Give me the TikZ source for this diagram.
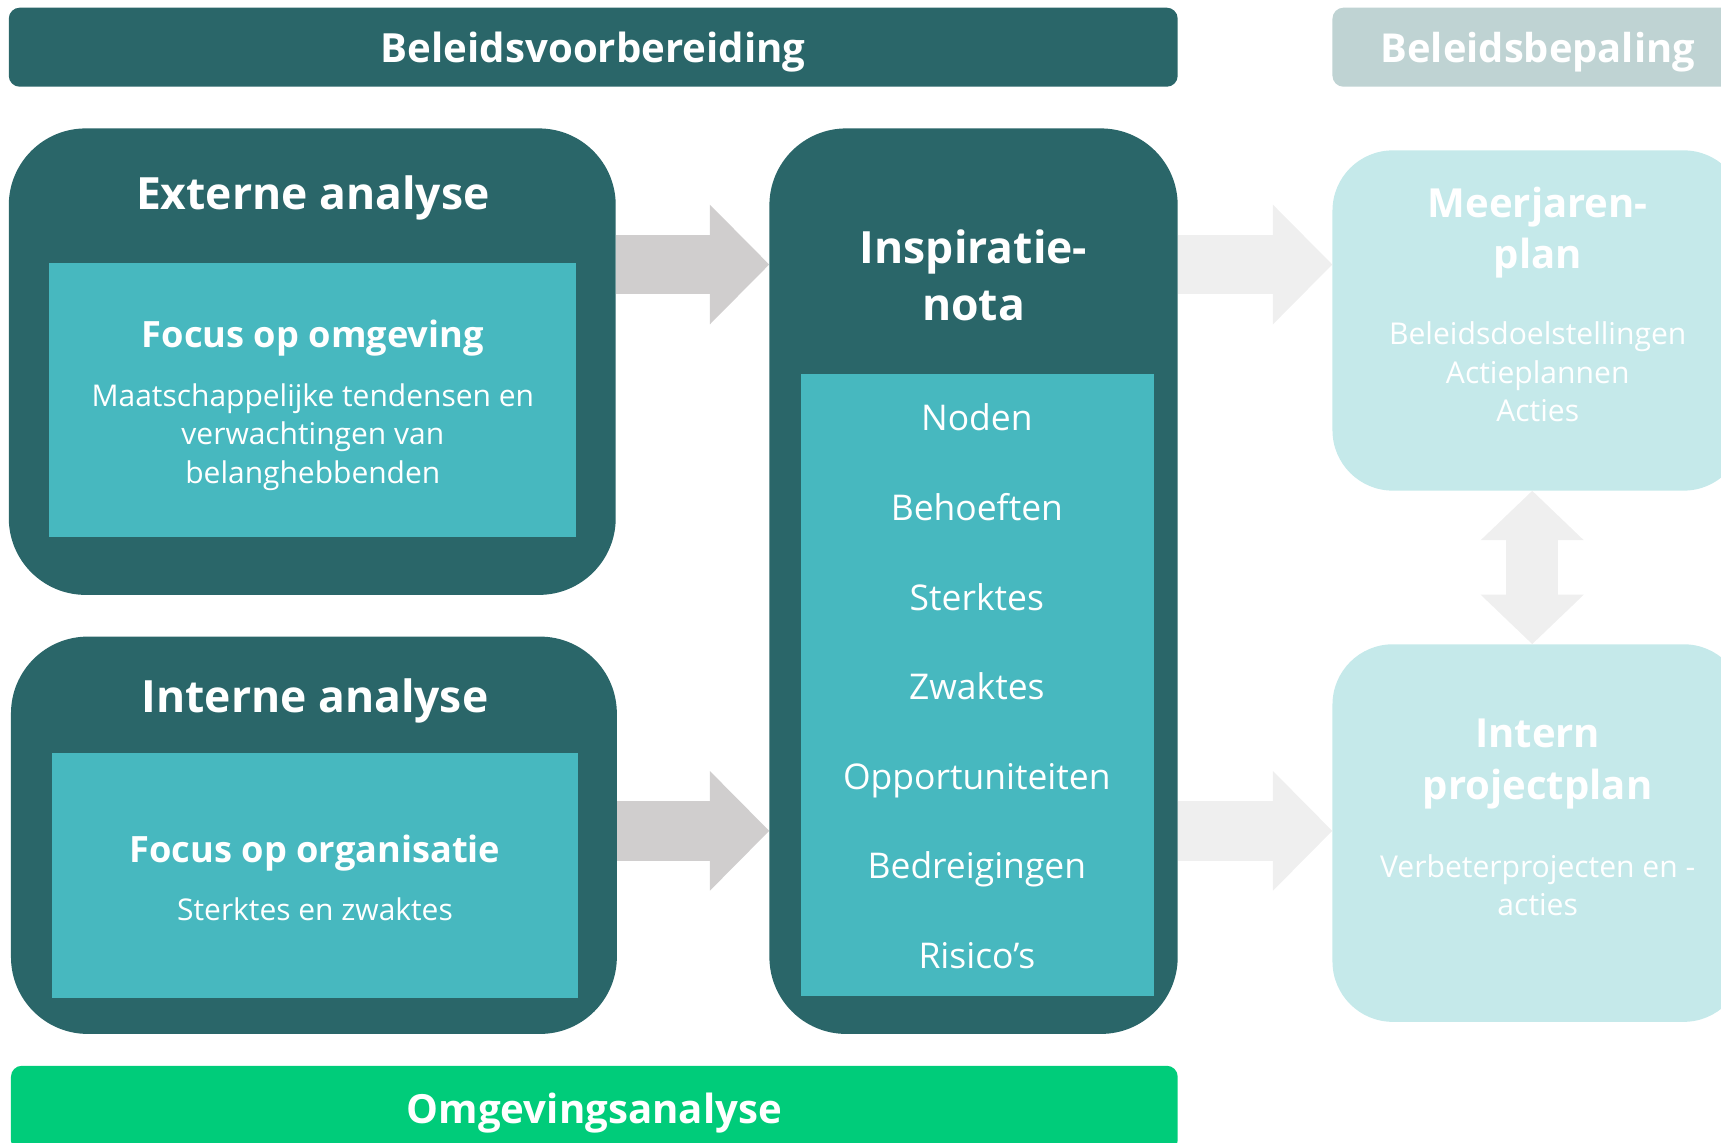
\documentclass[tikz,border=0pt]{standalone}
\usepackage{fontspec}
\setmainfont{Open Sans}
\usetikzlibrary{arrows.meta,positioning}
\definecolor{donker}{HTML}{2A6669}
\definecolor{midden}{HTML}{47B8BF}
\definecolor{licht}{HTML}{C5E9EA}
\definecolor{grijs}{HTML}{BFD3D3}
\definecolor{groen}{HTML}{00CC7A}
\definecolor{pijlgrijs}{HTML}{D0CECE}
\definecolor{pijllicht}{HTML}{EFEFEF}
\tikzset{balk/.style={fill=donker, rounded corners=10pt, inner sep=0pt,
           minimum height=72pt, text height=28.5pt, text depth=0pt,
           text=white, font=\fontsize{36.6}{40}\selectfont\bfseries},
         blok/.style={fill=donker, rounded corners=70pt, inner sep=0pt},
         vak/.style={fill=midden, inner sep=0pt},
         plan/.style={fill=licht, rounded corners=55pt, inner sep=0pt},
         kop/.style={text=white, align=center, inner sep=0pt, font=\fontsize{40.5}{52}\selectfont\bfseries},
         sub/.style={text=white, inner sep=0pt, font=\fontsize{33}{35}\selectfont\bfseries},
         tekst/.style={text=white, align=center, inner sep=0pt, font=\fontsize{27.3}{35}\selectfont},
         item/.style={text=white, inner sep=0pt, anchor=base, font=\fontsize{32.3}{35}\selectfont},
         pijl/.style={draw=pijlgrijs, line width=54pt,
           -{Triangle[length=54pt,width=109pt,line width=0pt]}},
         dubbel/.style={draw=pijllicht, line width=47pt,
           {Triangle[length=45pt,width=94pt,line width=0pt]}-{Triangle[length=45pt,width=94pt,line width=0pt]}}}

\begin{document}
\begin{tikzpicture}[x=1pt,y=-1pt]
  \path[use as bounding box,clip] (0,0) rectangle (1568,1041);

  % balken
  \node[balk, minimum width=1065pt] (vb) at (540.5,43) {Beleidsvoorbereiding};
  \node[balk, fill=grijs, minimum width=374pt, font=\fontsize{36.3}{40}\selectfont\bfseries] (bb) at (1401,43) {Beleidsbepaling};
  \node[balk, fill=groen, minimum width=1063pt, minimum height=78pt, text height=26.5pt] (oa) at (541.5,1010) {Omgevingsanalyse};

  % externe analyse
  \node[blok, minimum width=553pt, minimum height=425pt] (ext) at (284.5,329.5) {};
  \node[vak, minimum width=480pt, minimum height=249pt] (extvak) at (285,364.5) {};
  \node[kop] (extkop) at (285,180) {Externe analyse};
  \node[sub] (extsub) at (285,308) {Focus op omgeving};
  \node[tekst] (exttekst) at (285,398) {Maatschappelijke tendensen en\\verwachtingen van\\belanghebbenden};

  % interne analyse
  \node[blok, minimum width=552pt, minimum height=362pt] (int) at (286,761) {};
  \node[vak, minimum width=480pt, minimum height=223pt] (intvak) at (287,797.5) {};
  \node[kop] (intkop) at (287,639) {Interne analyse};
  \node[sub] (intsub) at (287,777) {Focus op organisatie};
  \node[tekst] (inttekst) at (287,828) {Sterktes en zwaktes};

  % inspiratienota
  \node[blok, minimum width=372pt, minimum height=825pt] (insp) at (887,529.5) {};
  \node[vak, minimum width=321pt, minimum height=566pt] (inspvak) at (890.5,624) {};
  \node[kop] (inspkop) at (887,251) {Inspiratie-\\nota};
  \node[item] (A) at (890,392.5) {Noden};
  \node[item] (B) at (890,474.5) {Behoeften};
  \node[item] (C) at (890,556.5) {Sterktes};
  \node[item] (D) at (890,637.5) {Zwaktes};
  \node[item] (E) at (890,719.5) {Opportuniteiten};
  \node[item] (F) at (890,800.5) {Bedreigingen};
  \node[item] (G) at (890,882.5) {Risico’s};

  % beleidsbepaling
  \node[plan, minimum width=375pt, minimum height=310pt] (meer) at (1401.5,292) {};
  \node[kop, font=\fontsize{36.5}{46}\selectfont\bfseries] (meerkop) at (1401,212) {Meerjaren-\\plan};
  \node[tekst, font=\fontsize{27.4}{35}\selectfont] (meertekst) at (1401,339) {Beleidsdoelstellingen\\Actieplannen\\Acties};
  \node[plan, minimum width=375pt, minimum height=344pt] (proj) at (1401.5,759) {};
  \node[kop, font=\fontsize{36.5}{48}\selectfont\bfseries] (projkop) at (1401,696) {Intern\\projectplan};
  \node[tekst, font=\fontsize{27.4}{35}\selectfont] (projtekst) at (1401,806.5) {Verbeterprojecten en -\\acties};

  % pijlen
  \coordinate (r1) at (0,241);
  \coordinate (r2) at (0,757);
  \coordinate (k) at (1396,0);
  \draw[pijl] (ext.east |- r1) -- (insp.west |- r1);
  \draw[pijl] (int.east |- r2) -- (insp.west |- r2);
  \draw[pijl, draw=pijllicht] (insp.east |- r1) -- (meer.west |- r1);
  \draw[pijl, draw=pijllicht] (insp.east |- r2) -- (proj.west |- r2);
  \draw[dubbel] (meer.south -| k) -- (proj.north -| k);
\end{tikzpicture}
\end{document}
